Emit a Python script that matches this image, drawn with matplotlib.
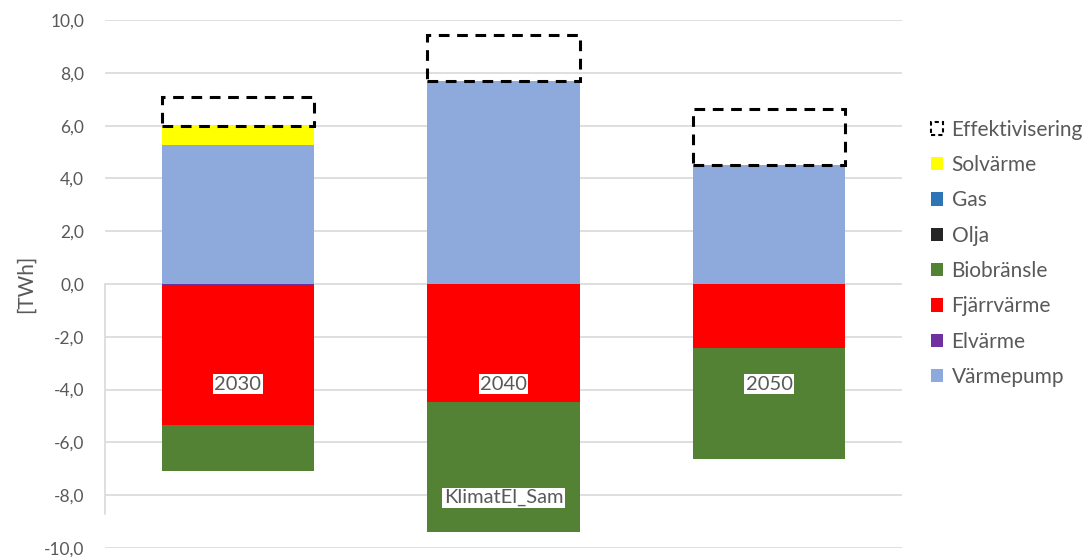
import numpy as np
import matplotlib.pyplot as plt
from matplotlib.patches import Patch

plt.rcParams['font.family'] = ['Lato', 'DejaVu Sans']

years = ['2030', '2040', '2050']
scenario = 'KlimatEl_Sam'

# series in stacking order (first = closest to zero)
series_names = ['Värmepump', 'Elvärme', 'Fjärrvärme', 'Biobränsle', 'Olja', 'Gas', 'Solvärme']
series_colors = ['#8EA9DB', '#7030A0', '#FF0000', '#548235', '#262626', '#2E75B6', '#FFFF00']
varmepump = [5.25, 7.70, 4.51]
elvarme = [-0.03, 0.0, 0.0]
fjarrvarme = [-5.32, -4.46, -2.42]
biobransle = [-1.73, -4.92, -4.20]
olja = [0.0, 0.0, 0.0]
gas = [0.0, 0.0, 0.0]
solvarme = [0.73, 0.0, 0.0]
effektivisering = [1.10, 1.72, 2.11]

series_vals = [varmepump, elvarme, fjarrvarme, biobransle, olja, gas, solvarme]

fig = plt.figure(figsize=(10.86, 5.57), dpi=100)
ax = fig.add_axes([0.0967, 0.0162, 0.7339, 0.9478])

x = np.arange(len(years))
w = 0.573
pos_bottom = np.zeros(len(years))
neg_bottom = np.zeros(len(years))
for name, col, vals in zip(series_names, series_colors, series_vals):
    v = np.array(vals, dtype=float)
    b = np.where(v >= 0, pos_bottom, neg_bottom)
    ax.bar(x, v, w, bottom=b, color=col, edgecolor='none', zorder=3)
    pos_bottom += np.where(v > 0, v, 0)
    neg_bottom += np.where(v < 0, v, 0)

ax.bar(x, effektivisering, w, bottom=pos_bottom, fill=False, edgecolor='black',
       linestyle=(0, (3.5, 2.5)), linewidth=2.2, zorder=4)

ax.set_xlim(-0.5, 2.5)
ax.set_ylim(-10, 10)
ax.set_yticks(np.arange(-10, 10.1, 2))
ax.set_yticklabels([f'{t:.1f}'.replace('.', ',') for t in np.arange(-10, 10.1, 2)])
ax.set_xticks([])
ax.tick_params(axis='y', length=0, labelsize=12.5, labelcolor='#595959', pad=15)
for s in ax.spines.values():
    s.set_visible(False)
ax.grid(axis='y', color='#D9D9D9', linewidth=1.2, zorder=0)
ax.plot([-0.5, -0.5], [0, -8.7], color='#D9D9D9', linewidth=1.2, zorder=1, clip_on=False)
ax.set_ylabel('[TWh]', fontsize=15, color='#595959', labelpad=6)

for i, yr in enumerate(years):
    ax.text(x[i], -3.8, yr, ha='center', va='center', fontsize=14.5, color='#595959', zorder=5,
            bbox=dict(facecolor='white', edgecolor='none', pad=1.0))
ax.text(x[1], -8.1, scenario, ha='center', va='center', fontsize=14.5, color='#595959', zorder=5,
        bbox=dict(facecolor='white', edgecolor='none', pad=1.0))

legend_names = ['Effektivisering', 'Solvärme', 'Gas', 'Olja', 'Biobränsle', 'Fjärrvärme', 'Elvärme', 'Värmepump']
handles = [Patch(facecolor='white', edgecolor='black', linestyle=(0, (2, 1.5)), linewidth=1.5)]
cmap = dict(zip(series_names, series_colors))
for n in legend_names[1:]:
    handles.append(Patch(facecolor=cmap[n], edgecolor='none'))
fig.legend(handles, legend_names, loc='upper left', bbox_to_anchor=(0.857, 0.785), frameon=False,
           fontsize=15, labelcolor='#595959', handlelength=0.6, handleheight=0.6,
           handletextpad=0.4, labelspacing=0.735, borderaxespad=0, borderpad=0)

fig.savefig('out.png', dpi=100)
